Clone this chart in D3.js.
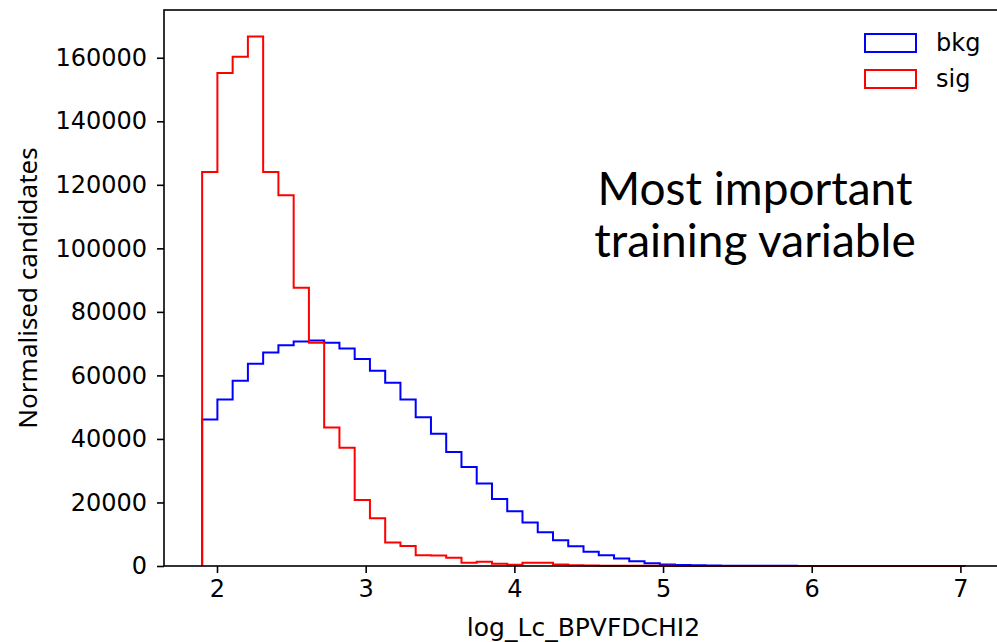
<!DOCTYPE html>
<html>
<head>
<meta charset="utf-8">
<script src="https://cdn.jsdelivr.net/npm/d3@7"></script>
<style>
  body { margin: 0; background: #fff; }
  svg { display: block; }
  .tick text { font-family: "DejaVu Sans", sans-serif; font-size: 24px; fill: #000; }
</style>
</head>
<body>
<div id="chart"></div>
<script>
// histogram binning: 50 equal bins between these edges
const binLo = 1.9;
const binHi = 7.03;
const nBins = 50;

// background counts per bin
const bkgCounts = [
  46100, 52400, 58300, 63700, 67200, 69500, 70700, 71000, 70300, 68500,
  65200, 61500, 57700, 52400, 46800, 41600, 35900, 31200, 26000, 21100,
  17200, 13700, 10600, 8100, 6200, 4500, 3400, 2400, 1500, 850,
  500, 330, 220, 150, 100, 80, 60, 50, 40, 30,
  25, 20, 15, 10, 10, 8, 6, 5, 5, 5
];

// signal counts per bin
const sigCounts = [
  124000, 155200, 160300, 166700, 124000, 116700, 87600, 70300, 43600, 37200,
  20800, 15000, 7400, 6300, 3400, 3300, 2600, 1000, 1300, 700,
  400, 1000, 1000, 500, 200, 150, 100, 80, 60, 50,
  40, 30, 30, 20, 20, 15, 10, 10, 10, 5,
  5, 5, 5, 5, 5, 5, 5, 5, 5, 5
];

const yTicks = [0, 20000, 40000, 60000, 80000, 100000, 120000, 140000, 160000];
const xTicks = [2, 3, 4, 5, 6, 7];
const seriesNames = ['bkg', 'sig'];
const seriesColors = ['#0000ff', '#ff0000'];

const W = 997, H = 642;
const m = { left: 164, top: 10, right: 1003, bottom: 566 };

const edges = d3.range(nBins + 1).map(i => binLo + (binHi - binLo) * i / nBins);
const span = binHi - binLo;

const x = d3.scaleLinear()
  .domain([binLo - 0.05 * span, binHi + 0.05 * span])
  .range([m.left, m.right]);
const yMax = d3.max(sigCounts) * 1.05;
const y = d3.scaleLinear().domain([0, yMax]).range([m.bottom, m.top]);

const svg = d3.select('#chart').append('svg')
  .attr('width', W)
  .attr('height', H);

// step outline like histtype='step'
function stepPoints(counts) {
  const pts = [[edges[0], 0]];
  counts.forEach((c, i) => {
    pts.push([edges[i], c]);
    pts.push([edges[i + 1], c]);
  });
  pts.push([edges[nBins], 0]);
  return pts;
}

const line = d3.line().x(d => x(d[0])).y(d => y(d[1]));

[bkgCounts, sigCounts].forEach((counts, i) => {
  svg.append('path')
    .attr('d', line(stepPoints(counts)))
    .attr('fill', 'none')
    .attr('stroke', seriesColors[i])
    .attr('stroke-width', 2)
    .attr('stroke-linejoin', 'miter');
});

// axes
const xAxis = svg.append('g')
  .attr('transform', `translate(0,${m.bottom})`)
  .call(d3.axisBottom(x).tickValues(xTicks).tickFormat(d3.format('d')).tickSize(7).tickPadding(7));

const yAxis = svg.append('g')
  .attr('transform', `translate(${m.left},0)`)
  .call(d3.axisLeft(y).tickValues(yTicks).tickFormat(d3.format('d')).tickSize(7).tickPadding(10));

[xAxis, yAxis].forEach(g => {
  g.select('.domain').remove();
  g.selectAll('.tick line').attr('stroke', '#000').attr('stroke-width', 1.6);
});

// spines
svg.append('rect')
  .attr('x', m.left)
  .attr('y', m.top)
  .attr('width', m.right - m.left)
  .attr('height', m.bottom - m.top)
  .attr('fill', 'none')
  .attr('stroke', '#000')
  .attr('stroke-width', 1.6);

// axis labels
svg.append('text')
  .attr('x', (m.left + m.right) / 2)
  .attr('y', 636)
  .attr('text-anchor', 'middle')
  .style('font-family', '"DejaVu Sans", sans-serif')
  .style('font-size', '25px')
  .text('log_Lc_BPVFDCHI2');

svg.append('text')
  .attr('transform', `translate(37,${(m.top + m.bottom) / 2}) rotate(-90)`)
  .attr('text-anchor', 'middle')
  .style('font-family', '"Noto Sans", sans-serif')
  .style('font-size', '26px')
  .text('Normalised candidates');

// legend
seriesNames.forEach((name, i) => {
  const ly = 34 + i * 36;
  svg.append('rect')
    .attr('x', 865)
    .attr('y', ly)
    .attr('width', 51)
    .attr('height', 18)
    .attr('fill', 'none')
    .attr('stroke', seriesColors[i])
    .attr('stroke-width', 2);
  svg.append('text')
    .attr('x', 936)
    .attr('y', ly + 17)
    .style('font-family', '"DejaVu Sans", sans-serif')
    .style('font-size', '24px')
    .text(name);
});

// annotation
const note = svg.append('text')
  .attr('text-anchor', 'middle')
  .style('font-family', 'Lato, "Open Sans", sans-serif')
  .style('font-size', '46px');
note.append('tspan').attr('x', 755).attr('y', 205).text('Most important');
note.append('tspan').attr('x', 755).attr('y', 257).text('training variable');
</script>
</body>
</html>
